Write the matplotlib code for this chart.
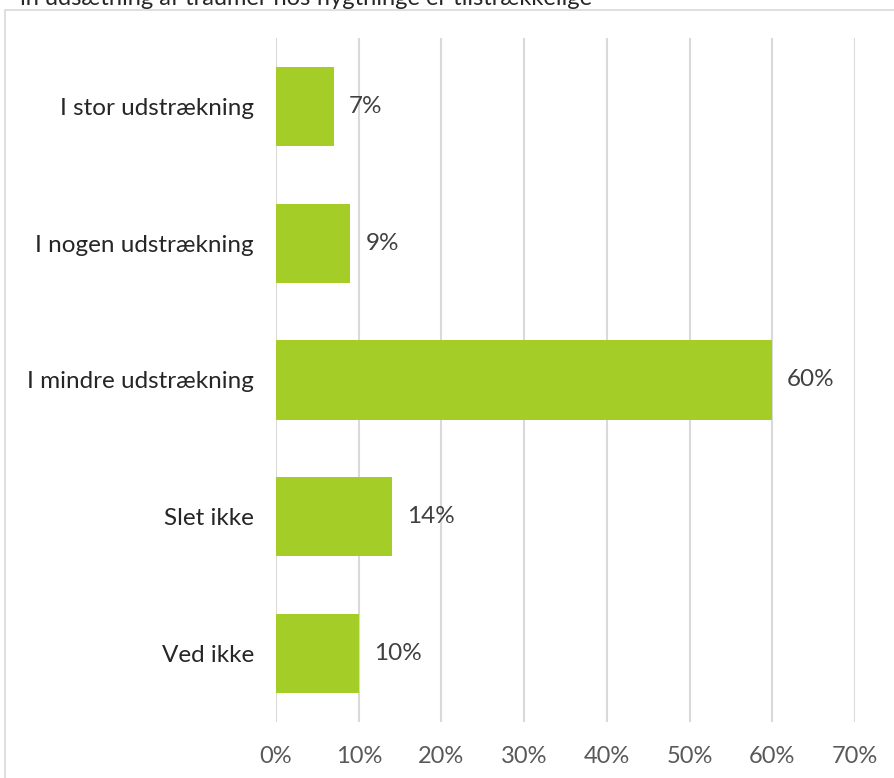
import matplotlib
matplotlib.use("Agg")
import matplotlib.pyplot as plt
from matplotlib.patches import Rectangle

categories = ["I stor udstrækning", "I nogen udstrækning", "I mindre udstrækning", "Slet ikke", "Ved ikke"]
values = [7, 9, 60, 14, 10]
xticks = [0, 10, 20, 30, 40, 50, 60, 70]
xtick_labels = [f"{t}%" for t in xticks]
title = "in udsætning af traumer hos flygtninge er tilstrækkelige"

plt.rcParams['font.family'] = ['Lato', 'DejaVu Sans']

W, H = 895, 778
fig = plt.figure(figsize=(W / 100, H / 100), dpi=100)

# outer frame
fig.patches.append(Rectangle((5 / W, -0.05), 1.0, 1 - 10 / H + 0.05, transform=fig.transFigure,
                             fill=False, edgecolor="#D9D9D9", linewidth=1.2))
# cropped title (cut off at top edge as in the reference)
fig.text(20 / W, 1 - 5 / H, title, fontsize=17, color="#262626", ha="left", va="baseline")

ax = fig.add_axes([276 / W, 1 - 722 / H, (855 - 276) / W, (722 - 38) / H])
y = list(range(len(categories)))
ax.barh(y, values, height=0.58, color="#A5CD28", zorder=3)
ax.set_ylim(len(categories) - 0.5, -0.5)
ax.set_xlim(0, 70)
ax.set_xticks(xticks)
ax.set_xticklabels(xtick_labels, fontsize=17, color="#595959")
ax.set_yticks(y)
ax.set_yticklabels(categories, fontsize=17.5, color="#262626")
ax.tick_params(axis="both", length=0)
ax.tick_params(axis="x", pad=17)
ax.tick_params(axis="y", pad=16)
for s in ax.spines.values():
    s.set_visible(False)
ax.grid(axis="x", color="#D9D9D9", linewidth=1.5, zorder=0)
ax.set_axisbelow(True)
for yi, v in zip(y, values):
    ax.text(v + 1.8, yi, f"{v}%", va="center", ha="left", fontsize=17.5, color="#404040")

fig.savefig("out.png", dpi=100)
